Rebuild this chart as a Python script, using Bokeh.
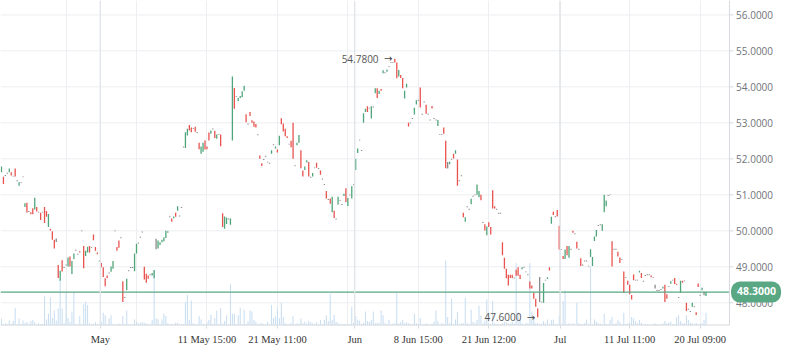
from bokeh.plotting import figure
from bokeh.models import Range1d, FixedTicker, Span, Label, ColumnDataSource
from bokeh.core.properties import value
from bokeh.embed import file_html
from bokeh.resources import INLINE

open_ = [
    51.63, 51.50, 51.54, 51.60, 51.63, 51.63, 51.52, 51.73, 51.39, 51.25,
    51.34, 51.50, 50.66, 50.78, 50.54, 50.52, 50.63, 50.59, 50.66, 50.52,
    50.50, 50.52, 50.66, 50.55, 50.11, 50.06, 49.99, 49.75, 49.74, 49.05,
    48.61, 49.18, 48.98, 49.05, 49.01, 49.29, 48.80, 49.22, 49.46, 49.35,
    49.43, 50.00, 49.58, 49.30, 49.40, 49.58, 49.54, 49.90, 49.55, 49.40,
    49.16, 49.11, 48.99, 48.68, 48.76, 48.83, 48.86, 48.95, 50.00, 49.55,
    49.73, 49.81, 48.60,
    48.15, 48.35, 48.89, 48.98, 48.98, 48.88, 49.37, 49.66, 49.82, 49.97,
    49.00, 48.81, 48.76, 48.78, 48.76, 48.68, 49.62, 49.51, 49.61, 49.68,
    49.71, 49.80, 49.95, 50.39, 50.34, 50.35, 50.50, 50.56, 50.41, 50.65,
    52.33, 52.30, 52.65, 52.94, 52.87, 52.84, 52.89, 52.73, 52.45, 52.14,
    52.20, 52.51, 52.34, 52.73, 52.70, 52.83, 52.78, 52.56, 52.68, 52.68,
    50.49, 50.06, 50.19, 50.33, 50.17, 52.51, 53.97, 53.73, 53.61, 53.69,
    53.71, 53.89,
    53.24, 52.97, 53.30, 53.07, 53.04, 52.97, 52.67, 52.09, 51.88, 51.98,
    52.07, 51.91, 51.88, 52.14, 52.39, 52.29, 52.26, 52.38, 53.13, 52.98,
    52.84, 52.63, 52.41, 52.50, 53.00, 51.81, 52.38, 52.45, 52.24, 51.68,
    51.69, 51.90, 51.91, 51.49, 51.51, 51.75, 51.89, 51.73, 51.68, 51.44,
    51.29, 51.11, 50.87, 50.90, 50.52, 50.56, 50.33, 50.73, 50.84, 50.73,
    50.97, 51.18, 50.69, 51.00, 50.90, 51.28, 51.69, 52.16, 52.52, 52.23,
    53.00, 53.30, 53.46,
    53.41, 53.12, 53.44, 53.82, 53.96, 53.80, 53.94, 54.38, 54.39, 54.42,
    54.57, 54.68, 54.68, 54.78, 54.68, 54.29, 54.33, 54.25, 53.68, 53.98,
    53.00, 53.00, 53.12, 53.23, 53.51, 53.63, 53.98, 53.24, 53.58, 53.50,
    53.24, 53.08, 53.47, 53.12, 53.08, 52.91, 52.68, 52.68, 52.87, 52.50,
    51.80, 51.85, 51.99, 52.14, 52.14, 51.98, 51.39, 51.53, 50.50, 50.25,
    50.67, 50.60, 50.74, 50.96, 51.00, 51.00, 50.93, 51.00, 50.23, 50.18,
    49.88, 50.24,
    50.11, 51.13, 50.68, 50.60, 50.49, 50.49, 49.68, 49.25, 48.95, 48.78,
    48.78, 48.78, 48.69, 48.92, 48.99, 48.78, 48.93, 48.99, 48.86, 48.78,
    48.59, 48.48, 48.28, 48.11, 47.84, 48.20, 48.02, 48.00, 48.63, 48.66,
    48.99, 50.20, 50.53, 50.39, 50.58, 50.14, 49.48, 49.30, 49.22, 49.58,
    49.25, 49.49, 50.00, 49.92, 49.70, 49.49, 49.24, 49.05, 49.16, 49.16,
    49.02, 49.27, 49.02, 49.72, 49.84, 50.15, 50.17, 50.00, 50.52, 50.68,
    50.98, 51.00,
    49.71, 49.49, 49.49, 49.42, 49.26, 49.20, 48.87, 48.70, 48.61, 48.50,
    48.22, 48.79, 48.63, 48.63, 48.84, 48.83, 48.60, 48.76, 48.78, 48.78,
    48.76, 48.70, 48.45, 48.34, 48.34, 48.37, 48.40, 48.50, 48.24, 48.45,
    48.53, 48.63, 48.69, 48.53, 48.15, 48.28, 48.61, 48.61, 48.00, 47.82,
    47.76, 47.89, 47.89, 47.74, 48.54, 48.21, 48.35, 48.26, 48.19,
]

close_ = [
    51.79, 51.30, 51.54, 51.60, 51.73, 51.54, 51.52, 51.51, 51.39, 51.35,
    51.34, 51.50, 50.77, 50.51, 50.54, 50.46, 50.46, 50.92, 50.54, 50.52,
    50.30, 50.52, 50.22, 50.39, 50.47, 50.01, 49.75, 49.51, 49.74, 48.69,
    48.89, 48.87, 48.98, 49.05, 49.26, 49.01, 49.16, 49.37, 49.46, 49.35,
    49.40, 50.00, 48.96, 49.45, 49.56, 49.40, 49.54, 49.74, 49.45, 49.35,
    49.16, 48.99, 48.72, 48.46, 48.69, 48.83, 49.01, 49.16, 50.00, 49.45,
    49.53, 49.81, 48.02,
    48.15, 48.67, 48.89, 48.98, 48.98, 49.37, 49.64, 49.66, 49.82, 49.97,
    48.65, 48.56, 48.67, 48.78, 48.83, 48.91, 49.62, 49.73, 49.68, 49.75,
    49.82, 50.00, 49.99, 50.39, 50.25, 50.40, 50.39, 50.68, 50.41, 50.65,
    52.33, 52.74, 52.84, 52.79, 52.74, 52.84, 52.75, 52.73, 52.27, 52.34,
    52.45, 52.26, 52.27, 52.51, 52.79, 52.83, 52.58, 52.68, 52.68, 52.35,
    50.11, 50.40, 50.37, 50.33, 50.34, 54.29, 53.39, 53.73, 53.69, 53.75,
    53.88, 54.03,
    53.02, 52.97, 53.19, 53.00, 52.89, 52.87, 52.67, 52.00, 51.80, 51.98,
    52.07, 51.91, 51.88, 52.24, 52.39, 52.34, 52.18, 52.64, 52.96, 52.76,
    52.63, 52.58, 52.41, 52.32, 52.00, 51.81, 52.45, 52.66, 51.74, 51.51,
    51.79, 51.96, 51.51, 51.49, 51.61, 51.75, 51.75, 51.73, 51.56, 51.44,
    51.29, 50.90, 50.87, 50.75, 50.95, 50.36, 50.33, 50.95, 50.84, 50.73,
    51.03, 50.80, 50.91, 51.00, 51.24, 51.28, 52.00, 52.29, 52.52, 52.23,
    53.27, 53.39, 53.30,
    53.41, 53.46, 53.44, 53.96, 53.69, 53.89, 53.89, 54.46, 54.39, 54.48,
    54.57, 54.68, 54.68, 54.68, 54.24, 54.47, 54.25, 53.96, 53.89, 54.09,
    52.90, 53.00, 53.12, 53.42, 53.63, 53.63, 53.43, 53.24, 53.58, 53.25,
    53.24, 53.08, 53.40, 53.12, 53.08, 53.08, 52.68, 52.68, 52.70, 51.74,
    51.80, 51.92, 51.99, 52.01, 52.24, 51.25, 51.39, 51.53, 50.38, 50.38,
    50.67, 50.60, 50.89, 50.96, 51.00, 51.29, 51.11, 50.85, 50.23, 50.01,
    50.12, 50.11,
    49.90, 50.62, 50.62, 50.60, 50.49, 50.49, 49.32, 48.95, 48.68, 48.48,
    48.69, 48.69, 48.69, 48.75, 48.75, 48.66, 48.99, 48.99, 48.86, 48.78,
    48.40, 48.40, 48.11, 47.89, 47.60, 48.20, 48.02, 48.55, 48.63, 48.71,
    48.90, 50.39, 50.44, 50.39, 50.40, 49.48, 49.48, 49.22, 49.48, 49.32,
    49.58, 49.49, 49.95, 49.92, 49.51, 49.49, 49.02, 49.05, 49.16, 49.16,
    49.02, 49.49, 49.27, 49.84, 50.02, 50.15, 50.17, 50.18, 51.00, 50.84,
    50.98, 51.00,
    49.01, 49.49, 49.49, 49.29, 49.11, 49.20, 48.28, 48.70, 48.50, 48.24,
    48.09, 48.63, 48.63, 48.63, 48.89, 48.69, 48.60, 48.76, 48.78, 48.78,
    48.71, 48.70, 48.45, 48.34, 48.34, 48.37, 48.45, 48.02, 48.11, 48.45,
    48.60, 48.63, 48.52, 48.50, 48.15, 48.61, 48.56, 48.61, 47.77, 47.82,
    47.76, 48.00, 47.89, 47.66, 48.44, 48.21, 48.42, 48.26, 48.30,
]

volume = [
    73, 13, 23, 13, 53, 17, 47, 187, 13, 73, 13, 53, 23, 37, 13, 47, 57, 37, 13, 23,
    17, 17, 307, 63, 123, 297, 80, 157, 53, 180, 473, 180, 23, 347, 80, 40, 147, 347, 13, 7,
    97, 17, 223, 253, 217, 23, 13, 13, 33, 17, 13, 40, 133, 107, 13, 73, 107, 13, 13, 13,
    20, 13, 100,
    13, 157, 13, 13, 13, 63, 40, 23, 30, 33, 27, 20, 17, 13, 57, 580, 73, 67, 13, 63,
    123, 100, 23, 13, 17, 13, 30, 30, 13, 13, 13, 247, 323, 57, 263, 23, 17, 13, 97, 63,
    17, 13, 30, 57, 113, 17, 80, 157, 13, 183, 20, 47, 107, 13, 433, 123, 123, 13, 107, 187,
    13, 167,
    13, 47, 157, 147, 57, 40, 13, 20, 23, 17, 13, 40, 13, 217, 80, 97, 180, 80, 240, 90,
    23, 13, 17, 23, 97, 13, 23, 17, 73, 23, 40, 20, 50, 33, 20, 13, 33, 13, 57, 13,
    57, 107, 47, 333, 57, 113, 40, 23, 13, 13, 17, 13, 13, 13, 197, 30, 100, 63, 50, 13,
    30, 147, 47,
    40, 57, 147, 23, 30, 23, 157, 107, 23, 13, 57, 13, 20, 23, 340, 23, 37, 57, 23, 33,
    23, 13, 13, 123, 23, 13, 80, 13, 13, 23, 13, 13, 17, 40, 157, 47, 13, 23, 13, 683,
    90, 23, 283, 13, 63, 140, 13, 23, 23, 290, 23, 13, 167, 40, 23, 57, 207, 107, 20, 50,
    273, 23,
    13, 257, 23, 13, 13, 13, 23, 40, 33, 20, 23, 40, 20, 657, 140, 57, 23, 13, 23, 23,
    657, 147, 90, 23, 23, 13, 20, 47, 23, 63, 13, 57, 63, 13, 13, 100, 13, 257, 367, 13,
    23, 13, 23, 13, 240, 23, 13, 17, 23, 63, 13, 623, 13, 63, 40, 23, 20, 13, 123, 17,
    13, 57,
    90, 13, 23, 57, 33, 13, 133, 13, 23, 30, 90, 73, 47, 23, 57, 30, 13, 17, 13, 13,
    7, 13, 23, 17, 13, 13, 23, 47, 23, 30, 40, 13, 13, 87, 107, 47, 23, 23, 107, 57,
    30, 23, 17, 30, 13, 17, 23, 57, 133,
]

doji_idx = [28, 79, 228, 275, 334, 359]
doji_high = [49.79, 49.78, 51.91, 48.72, 48.50, 48.31]
doji_low = [49.69, 49.49, 51.73, 48.02, 48.40, 48.21]

price_ticks = [48, 49, 50, 51, 52, 53, 54, 55, 56]
grid_ticks = [33, 69, 105, 141, 177, 213, 249, 285, 321, 357]
month_ticks = [50.5, 180.5, 285.5]
label_ticks = [50.5, 105, 141, 180.5, 213, 249, 285.5, 321, 357]
tick_labels = ["May", "11 May 15:00", "21 May 11:00", "Jun", "8 Jun 15:00",
               "21 Jun 12:00", "Jul", "11 Jul 11:00", "20 Jul 09:00"]
last_price = 48.30
max_idx, max_price = 201, 54.78
min_idx, min_price = 274, 47.60

GREEN = "#4fa57a"
RED = "#e8534f"
GRAY = "#8a8a8a"
PRICE_GREEN = "#5aa783"

X0, X_AXIS, X_END = -0.5, 372.0, 399.1
Y0, Y1 = 47.37, 56.40

n = len(open_)
idx = list(range(n))
lo, hi, col = [], [], []
for i in idx:
    o, c = open_[i], close_[i]
    if c > o:
        col.append(GREEN); lo.append(o); hi.append(c)
    elif c < o:
        col.append(RED); lo.append(c); hi.append(o)
    else:
        col.append(GRAY); lo.append(c - 0.013); hi.append(c + 0.013)
for k, i in enumerate(doji_idx):
    lo[i] = doji_low[k]
    hi[i] = doji_high[k]

src = ColumnDataSource(dict(x=idx, lo=lo, hi=hi, col=col, vol=volume))

p = figure(width=782, height=347, x_range=Range1d(X0, X_END), y_range=Range1d(Y0, Y1),
           y_axis_location=None, output_backend="svg", toolbar_location=None)
p.min_border_left = 0
p.min_border_top = 0
p.min_border_right = 0
p.min_border_bottom = 0
p.outline_line_color = None
p.background_fill_color = "white"
p.border_fill_color = "white"

p.extra_y_ranges = {"vol": Range1d(0, 3420)}

# grid
p.ygrid.visible = False
p.segment(x0=[X0] * len(price_ticks), y0=price_ticks, x1=[X_AXIS] * len(price_ticks),
          y1=price_ticks, line_color="#eceef1", line_width=1)
p.xgrid.ticker = FixedTicker(ticks=grid_ticks)
p.xgrid.grid_line_color = "#eceef1"
for m in month_ticks:
    p.add_layout(Span(location=m, dimension="height", line_color="#e2e5e9", line_width=1.4))

# volume
p.vbar(x="x", top="vol", bottom=0, width=0.55, source=src, y_range_name="vol",
       fill_color="#cadff2", line_color=None)

# candles
p.segment(x0="x", y0="lo", x1="x", y1="hi", line_color="col", line_width=1.3, source=src)

# last price line
p.segment(x0=[X0], y0=[last_price], x1=[X_AXIS], y1=[last_price],
          line_color=PRICE_GREEN, line_width=1.3)

# right price axis drawn inside the frame
p.segment(x0=[X_AXIS], y0=[Y0], x1=[X_AXIS], y1=[Y1], line_color="#d6d9dd", line_width=1)
p.segment(x0=[X0], y0=[Y0], x1=[X_AXIS], y1=[Y0], line_color="#d6d9dd", line_width=2)
p.segment(x0=[X_AXIS] * len(price_ticks), y0=price_ticks, x1=[X_AXIS + 2.0] * len(price_ticks),
          y1=price_ticks, line_color="#d6d9dd", line_width=1)
p.text(x=[X_AXIS + 3.4] * len(price_ticks), y=price_ticks,
       text=["%.4f" % t for t in price_ticks], text_align="left", text_baseline="middle",
       text_font=value("Open Sans"), text_font_size="10px", text_color="#6f737a")

# bottom axis
p.xaxis.ticker = FixedTicker(ticks=label_ticks)
p.xaxis.major_label_overrides = {t: s for t, s in zip(label_ticks, tick_labels)}
p.xaxis.major_label_text_font = "Liberation Serif"
p.xaxis.major_label_text_font_size = "10.5px"
p.xaxis.major_label_text_color = "#333333"
p.xaxis.axis_line_color = None
p.xaxis.major_tick_line_color = "#d6d9dd"
p.xaxis.major_tick_out = 3
p.xaxis.major_tick_in = 0
p.xaxis.minor_tick_line_color = None
p.xaxis.major_label_standoff = 5

# max / min markers: value text followed by an arrow pointing at the candle
for xi, pv in ((max_idx, max_price), (min_idx, min_price)):
    p.add_layout(Label(x=xi - 8.3, y=pv, text="%.4f" % pv,
                       text_align="right", text_baseline="middle", text_font="Open Sans",
                       text_font_size="10px", text_color="#555555"))
    p.add_layout(Label(x=xi - 1.3, y=pv, text="\u2192",
                       text_align="right", text_baseline="middle", text_font="DejaVu Sans",
                       text_font_size="10px", text_color="#444444"))

p.add_layout(Label(x=X_AXIS + 0.8, y=last_price, text="%.4f" % last_price, text_align="left",
                   text_baseline="middle", text_font="Open Sans", text_font_size="10.5px",
                   text_font_style="bold", text_color="white",
                   background_fill_color=PRICE_GREEN, padding=[6, 5, 5, 8], border_radius=9))

open("out.html", "w").write(file_html(p, INLINE))
